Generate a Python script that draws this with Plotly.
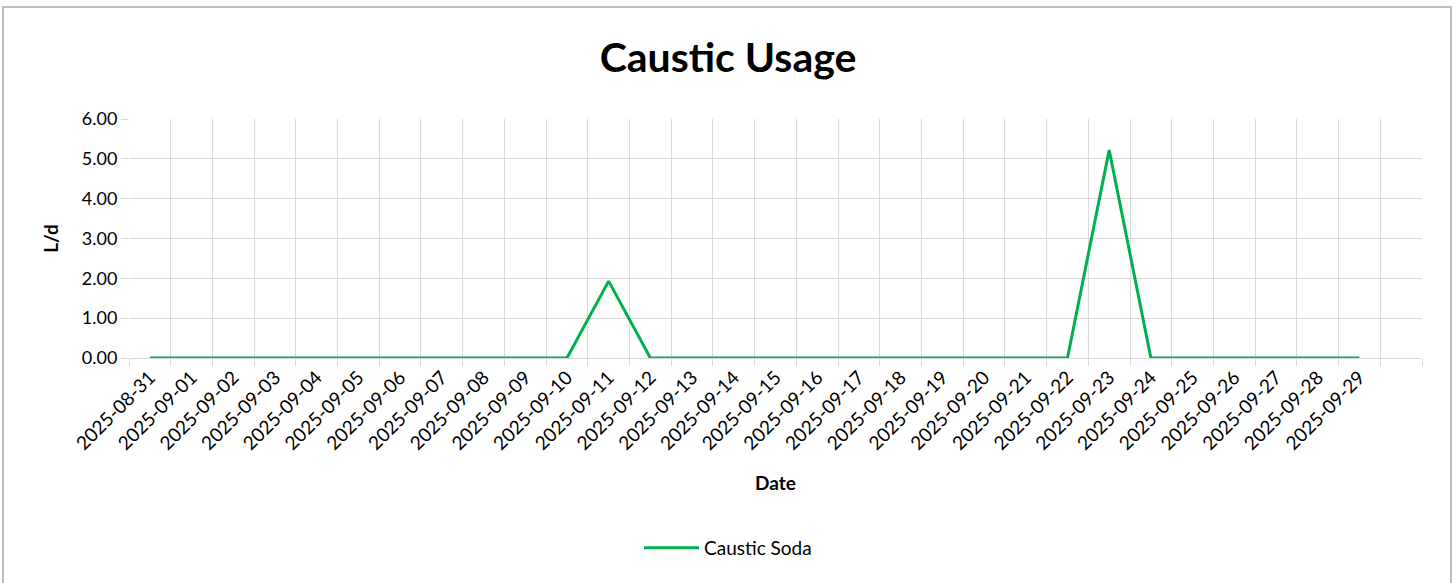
import plotly.graph_objects as go

dates = ["2025-08-31", "2025-09-01", "2025-09-02", "2025-09-03", "2025-09-04", "2025-09-05",
         "2025-09-06", "2025-09-07", "2025-09-08", "2025-09-09", "2025-09-10", "2025-09-11",
         "2025-09-12", "2025-09-13", "2025-09-14", "2025-09-15", "2025-09-16", "2025-09-17",
         "2025-09-18", "2025-09-19", "2025-09-20", "2025-09-21", "2025-09-22", "2025-09-23",
         "2025-09-24", "2025-09-25", "2025-09-26", "2025-09-27", "2025-09-28", "2025-09-29", " "]
caustic_soda = [0, 0, 0, 0, 0, 0, 0, 0, 0, 0, 0, 1.93, 0, 0, 0, 0, 0, 0,
                0, 0, 0, 0, 0, 5.22, 0, 0, 0, 0, 0, 0, None]

W, H = 1456, 583
L, R, T, B = 129, 1422, 119, 358
pw, ph = R - L, B - T
FONT = "Lato"
GRID = "#D9D9D9"

fig = go.Figure()
fig.add_trace(go.Scatter(x=dates, y=caustic_soda, mode="lines", name="Caustic Soda",
                         line=dict(color="#00B050", width=3), connectgaps=False))

fig.update_layout(
    width=W, height=H,
    margin=dict(l=L, r=W - R, t=T, b=H - B),
    paper_bgcolor="white", plot_bgcolor="white",
    font=dict(family=FONT, color="black", size=18),
    title=dict(text="<b>Caustic Usage</b>", x=0.5, xref="container", xanchor="center",
               y=1 - 58 / H, yref="container", yanchor="middle",
               font=dict(family=FONT, size=41, color="black")),
    showlegend=True,
    legend=dict(orientation="h", x=0.5, xref="container", xanchor="center",
                y=1 - 548 / H, yref="container", yanchor="middle",
                font=dict(family=FONT, size=19, color="black"), itemwidth=55),
    xaxis=dict(type="category", range=[-0.5, 30.5], tickson="boundaries",
               ticks="outside", ticklen=7, tickcolor=GRID, tickwidth=1,
               showgrid=True, gridcolor=GRID, gridwidth=1,
               showline=True, linecolor=GRID, linewidth=1, mirror=False,
               tickangle=-45, tickfont=dict(family=FONT, size=19, color="black"),
               title=dict(text="<b>Date</b>", font=dict(family=FONT, size=19, color="black"),
                          standoff=23)),
    yaxis=dict(range=[0, 6], dtick=1, tickformat=".2f",
               ticks="outside", ticklen=7, tickcolor=GRID,
               showgrid=True, gridcolor=GRID, gridwidth=1, zeroline=False,
               showline=False,
               tickfont=dict(family=FONT, size=18, color="black"),
               title=dict(text="<b>L/d</b>", font=dict(family=FONT, size=19, color="black"),
                          standoff=18)),
    shapes=[dict(type="rect", xref="paper", yref="paper",
                 x0=(3 - L) / pw, x1=(1451 - L) / pw,
                 y0=(B - 600) / ph, y1=(B - 7) / ph,
                 line=dict(color="#BFBFBF", width=2), fillcolor="rgba(0,0,0,0)", layer="below")],
)

fig.write_html("out.html", config={"displayModeBar": False},
               post_script="document.body.style.margin='0';document.body.style.overflow='hidden';")
